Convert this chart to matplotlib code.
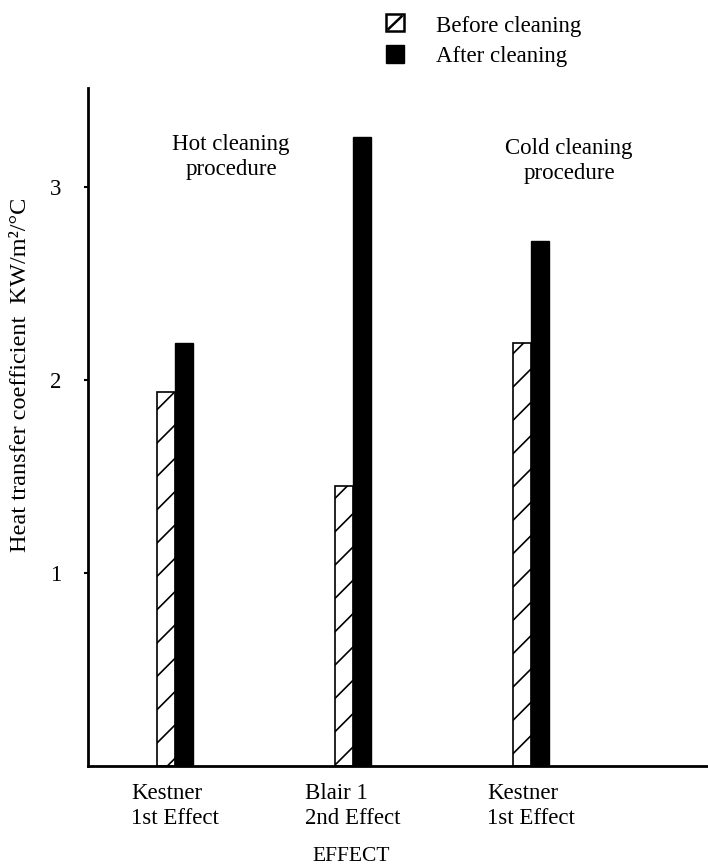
import matplotlib
matplotlib.use("Agg")
import matplotlib.pyplot as plt
from matplotlib.patches import Patch, Rectangle
from matplotlib.lines import Line2D
from matplotlib.legend_handler import HandlerBase
import numpy as np

plt.rcParams['font.family'] = ['Liberation Serif', 'DejaVu Serif']
plt.rcParams['hatch.linewidth'] = 1.2

# data
effects = ['Kestner\n1st Effect', 'Blair 1\n2nd Effect', 'Kestner\n1st Effect']
before = [1.94, 1.45, 2.19]
after = [2.19, 3.26, 2.72]
yticks = [1, 2, 3]


class SlashBox(HandlerBase):
    # square with one diagonal, like the printed key
    def create_artists(self, legend, orig, xd, yd, w, h, fontsize, trans):
        r = Rectangle((xd, yd), w, h, facecolor='white', edgecolor='black',
                      linewidth=1.8, transform=trans)
        l = Line2D([xd + 0.15*w, xd + 0.85*w], [yd + 0.15*h, yd + 0.85*h],
                   color='black', linewidth=1.8, transform=trans)
        return [r, l]


fs = 16.5
fig = plt.figure(figsize=(7.08, 8.64), dpi=100)
ax = fig.add_axes([88/708, 98/864, 620/708, 678/864])

x = np.arange(len(effects))
w = 0.1
b1 = ax.bar(x - w/2, before, w, facecolor='white', edgecolor='black',
            hatch='/', linewidth=1.2, label='Before cleaning')
b2 = ax.bar(x + w/2, after, w, color='black', edgecolor='black', linewidth=1.0,
            label='After cleaning')

ax.set_xlim(-0.489, 2.994)
ax.set_ylim(0, 3.513)

for s in ['top', 'right']:
    ax.spines[s].set_visible(False)
for s in ['left', 'bottom']:
    ax.spines[s].set_linewidth(2.0)

ax.set_yticks(yticks)
ax.set_yticklabels([str(t) for t in yticks], fontsize=fs)
ax.tick_params(axis='y', direction='out', length=3, width=1.5, pad=16)
ax.set_xticks(x)
ax.set_xticklabels(effects, fontsize=fs, multialignment='left', linespacing=1.25)
ax.tick_params(axis='x', length=0, pad=12)

ax.set_xlabel('EFFECT', fontsize=15.5)
ax.xaxis.set_label_coords(0.424, -0.119)

ax.set_ylabel('Heat transfer coefficient  KW/m²/°C', fontsize=17.5)
ax.yaxis.set_label_coords(-0.092, 0.577)

ax.text(0.315, 3.155, 'Hot cleaning\nprocedure', fontsize=fs, ha='center',
        va='center', linespacing=1.25)
ax.text(2.213, 3.135, 'Cold cleaning\nprocedure', fontsize=fs, ha='center',
        va='center', linespacing=1.25)

before_key = Patch(label='Before cleaning')
after_key = Patch(facecolor='black', edgecolor='black', label='After cleaning')
fig.legend(handles=[before_key, after_key], handler_map={before_key: SlashBox()},
           loc='upper left', bbox_to_anchor=(0.545, 0.982),
           frameon=False, fontsize=fs, handlelength=0.8, handleheight=0.8,
           handletextpad=1.4, labelspacing=0.35, borderpad=0, borderaxespad=0)

fig.savefig('out.png', dpi=100)
